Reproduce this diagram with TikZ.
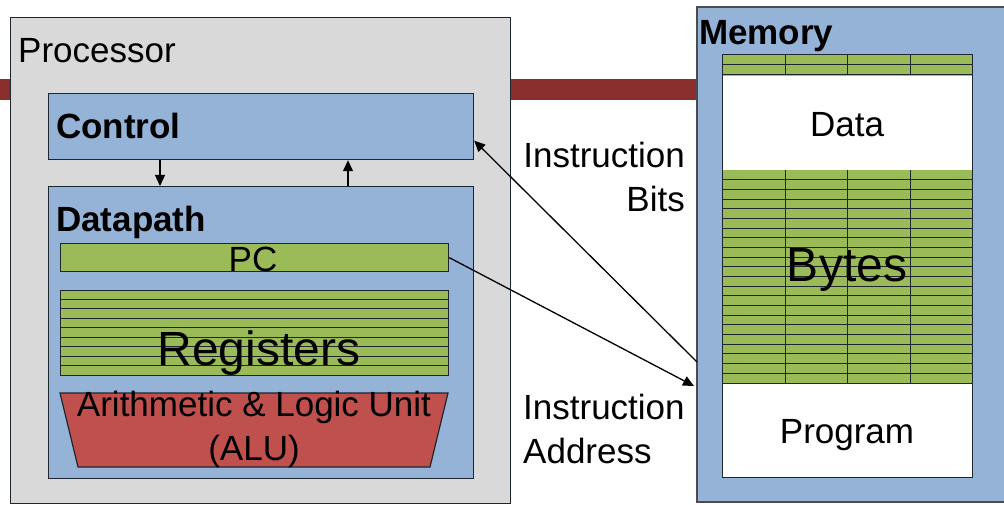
\documentclass[tikz,border=0pt]{standalone}
\usepackage{fontspec}
\setmainfont{Liberation Sans}
\usetikzlibrary{arrows.meta}
\definecolor{procgray}{HTML}{D9D9D9}
\definecolor{blockblue}{HTML}{95B3D7}
\definecolor{reggreen}{HTML}{9BBB59}
\definecolor{alured}{HTML}{C0504D}
\definecolor{busred}{HTML}{8A2E2E}
\definecolor{edge}{HTML}{1E2630}
\tikzset{
  box/.style={draw=edge, line width=1.2pt, inner sep=0pt, anchor=north west},
  lbl/.style={inner sep=0pt, font=\fontsize{35}{44}\selectfont},
  blbl/.style={inner sep=0pt, font=\fontsize{35}{44}\selectfont\bfseries},
  biglbl/.style={inner sep=0pt, font=\fontsize{48}{56}\selectfont},
  arr/.style={-{Triangle[length=11pt,width=10pt]}, line width=1.3pt, draw=black},
  rowline/.style={draw=edge, line width=1pt}
}
\newcommand{\ByteGrid}[3]{% ytop,ybottom,rows
  \fill[reggreen] (722,#1) rectangle (972,#2);
  \foreach \r in {1,...,#3}
    \draw[rowline] (722,{#1+(#2-#1)*\r/#3}) -- (972,{#1+(#2-#1)*\r/#3});
  \foreach \c in {785,847,910}
    \draw[rowline] (\c,#1) -- (\c,#2);
}

\begin{document}
\begin{tikzpicture}[x=1pt, y=-1pt]
  \useasboundingbox (0,0) rectangle (1004,505);
  \clip (0,0) rectangle (1004,505);

  % bus behind the processor
  \fill[busred] (0,79) rectangle (697,100);

  % Processor
  \node[box, fill=procgray, minimum width=500pt, minimum height=486pt] (proc) at (10,17) {};
  \node[lbl, anchor=base west] (proclbl) at (18,63) {Processor};
  \node[box, fill=blockblue, minimum width=425pt, minimum height=66pt] (ctrl) at (48,93) {};
  \node[blbl, anchor=base west] (ctrllbl) at (56,139) {Control};
  \node[box, fill=blockblue, minimum width=425pt, minimum height=292pt] (dpath) at (48,186) {};
  \node[blbl, anchor=base west] (dpathlbl) at (56,232) {Datapath};
  \draw[arr] ([xshift=112pt]ctrl.south west) -- ([xshift=112pt]dpath.north west);
  \draw[arr] ([xshift=300pt]dpath.north west) -- ([xshift=300pt]ctrl.south west);

  % PC and registers
  \node[box, fill=reggreen, minimum width=388pt, minimum height=28pt] (pc) at (60,243) {};
  \node[lbl, anchor=base] (pclbl) at (253,272) {PC};
  \node[box, fill=reggreen, minimum width=388pt, minimum height=85pt] (regs) at (60,290) {};
  \foreach \i in {1,...,8}
    \draw[rowline] (60,{290+\i*85/9}) -- (448,{290+\i*85/9});
  \node[biglbl, anchor=base] (regslbl) at (259,365) {Registers};

  % ALU
  \draw[draw=edge, line width=1.2pt, fill=alured] (60,393) -- (448,393) -- (430,467) -- (78,467) -- cycle;
  \node[lbl, align=center, anchor=base] (alulbl) at (254,460) {Arithmetic \& Logic Unit\\(ALU)};

  % Memory
  \node[box, draw=none, fill=blockblue, minimum width=340pt, minimum height=495pt] (mem) at (697,7) {};
  \draw[draw=gray!60!black, line width=1.2pt] (1040,7) -| (697,502) -- (1040,502);
  \node[blbl, anchor=base west] (memlbl) at (699,45) {Memory};
  \ByteGrid{55}{75}{2}
  \node[box, draw=none, fill=white, minimum width=250pt, minimum height=95pt] (data) at (722,75) {};
  \ByteGrid{170}{383}{22}
  \node[box, draw=none, fill=white, minimum width=250pt, minimum height=94pt] (prog) at (722,383) {};
  \draw[rowline] (722,55) rectangle (972,477);
  \node[lbl, anchor=base] (datalbl) at (847,137) {Data};
  \node[biglbl, anchor=base] (byteslbl) at (847,281) {Bytes};
  \node[lbl, anchor=base] (proglbl) at (847,443) {Program};

  % instruction fetch
  \coordinate (ibits) at (697,362);
  \coordinate (iaddr) at (694,386);
  \draw[arr] (ibits) -- ([yshift=-14pt]ctrl.east);
  \draw[arr] (pc.east) -- (iaddr);
  \node[lbl, align=right, anchor=base east] (ibitslbl) at (685,212) {Instruction\\Bits};
  \node[lbl, align=left, anchor=base west] (iaddrlbl) at (523,463) {Instruction\\Address};
\end{tikzpicture}
\end{document}
